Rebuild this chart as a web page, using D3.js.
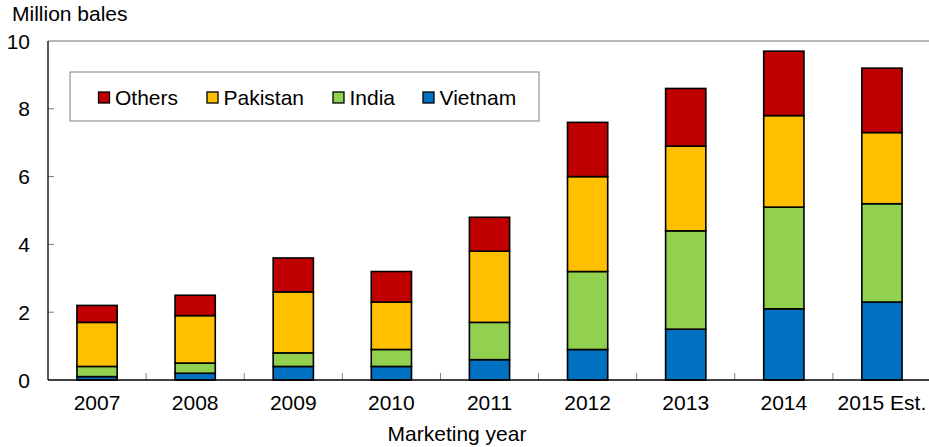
<!DOCTYPE html>
<html lang="en">
<head>
<meta charset="UTF-8">
<script src="https://d3js.org/d3.v7.min.js"></script>
<title>Cotton imports</title>
<style>
  body { margin: 0; background: #fff; }
  text { font-family: "Liberation Sans", Arial, sans-serif; fill: #000; }
</style>
</head>
<body>
<div id="chart"></div>
<script>
// marketing years and values (million bales)
const years = ["2007", "2008", "2009", "2010", "2011", "2012", "2013", "2014", "2015 Est."];
const vietnam  = [0.1, 0.2, 0.4, 0.4, 0.6, 0.9, 1.5, 2.1, 2.3];
const india    = [0.3, 0.3, 0.4, 0.5, 1.1, 2.3, 2.9, 3.0, 2.9];
const pakistan = [1.3, 1.4, 1.8, 1.4, 2.1, 2.8, 2.5, 2.7, 2.1];
const others   = [0.5, 0.6, 1.0, 0.9, 1.0, 1.6, 1.7, 1.9, 1.9];
const yTicks = [0, 2, 4, 6, 8, 10];

const seriesNames = ["Vietnam", "India", "Pakistan", "Others"];
const colors = { Vietnam: "#0070C0", India: "#92D050", Pakistan: "#FFC000", Others: "#C00000" };

const width = 929, height = 447;
const plotLeft = 48, plotRight = 931, plotTop = 41, plotBottom = 380;
const fontSize = "21px";

const rows = years.map((y, i) => ({
  year: y, Vietnam: vietnam[i], India: india[i], Pakistan: pakistan[i], Others: others[i]
}));
const stacked = d3.stack().keys(seriesNames)(rows);

const x = d3.scaleBand().domain(years).range([plotLeft, plotRight]).paddingInner(0.59).paddingOuter(0.295);
const xOuter = d3.scaleBand().domain(years).range([plotLeft, plotRight]);
const y = d3.scaleLinear().domain([0, 10]).range([plotBottom, plotTop]);

const svg = d3.select("#chart").append("svg")
  .attr("width", width).attr("height", height);

// top frame line
svg.append("line")
  .attr("x1", plotLeft).attr("x2", width).attr("y1", plotTop).attr("y2", plotTop)
  .attr("stroke", "#6e6e6e").attr("stroke-width", 1);

// y ticks (inward) and labels
svg.append("g").selectAll("line").data(yTicks.filter(d => d > 0 && d < 10)).enter()
  .append("line")
  .attr("x1", plotLeft).attr("x2", plotLeft + 6)
  .attr("y1", d => y(d)).attr("y2", d => y(d))
  .attr("stroke", "#808080");
svg.append("g").selectAll("text").data(yTicks).enter()
  .append("text")
  .attr("x", 30).attr("y", d => y(d) + 7.5)
  .attr("text-anchor", "end")
  .style("font-size", fontSize)
  .text(d => d);

// x ticks between categories
svg.append("g").selectAll("line").data(years.slice(1)).enter()
  .append("line")
  .attr("x1", d => xOuter(d)).attr("x2", d => xOuter(d))
  .attr("y1", plotBottom).attr("y2", plotBottom - 7)
  .attr("stroke", "#808080");

// bars
svg.append("g").selectAll("g").data(stacked).enter()
  .append("g")
  .attr("fill", d => colors[d.key])
  .selectAll("rect").data(d => d).enter()
  .append("rect")
  .attr("x", d => x(d.data.year))
  .attr("width", x.bandwidth())
  .attr("y", d => y(d[1]))
  .attr("height", d => y(d[0]) - y(d[1]))
  .attr("stroke", "#000").attr("stroke-width", 1.6);

// axes lines
svg.append("line")
  .attr("x1", plotLeft).attr("x2", plotLeft).attr("y1", plotTop).attr("y2", plotBottom)
  .attr("stroke", "#000").attr("stroke-width", 1.3);
svg.append("line")
  .attr("x1", plotLeft).attr("x2", width).attr("y1", plotBottom).attr("y2", plotBottom)
  .attr("stroke", "#000").attr("stroke-width", 1.3);

// x labels
svg.append("g").selectAll("text").data(years).enter()
  .append("text")
  .attr("x", d => xOuter(d) + xOuter.bandwidth() / 2)
  .attr("y", 410)
  .attr("text-anchor", "middle")
  .style("font-size", fontSize)
  .text(d => d);

svg.append("text").attr("x", 457).attr("y", 441)
  .attr("text-anchor", "middle").style("font-size", fontSize)
  .text("Marketing year");

svg.append("text").attr("x", 12).attr("y", 20.5)
  .style("font-size", fontSize)
  .text("Million bales");

// legend
const legend = svg.append("g");
legend.append("rect")
  .attr("x", 70).attr("y", 72).attr("width", 469).attr("height", 49)
  .attr("fill", "#fff").attr("stroke", "#808080");
const legendItems = ["Others", "Pakistan", "India", "Vietnam"];
const legendX = [98.5, 207, 333, 423];
const li = legend.selectAll("g.item").data(legendItems).enter()
  .append("g").attr("class", "item")
  .attr("transform", (d, i) => `translate(${legendX[i]},0)`);
li.append("rect")
  .attr("x", 0).attr("y", 92).attr("width", 11).attr("height", 11)
  .attr("fill", d => colors[d]).attr("stroke", "#000").attr("stroke-width", 1.3);
li.append("text")
  .attr("x", 16.5).attr("y", 104.5)
  .style("font-size", fontSize)
  .text(d => d);
</script>
</body>
</html>
